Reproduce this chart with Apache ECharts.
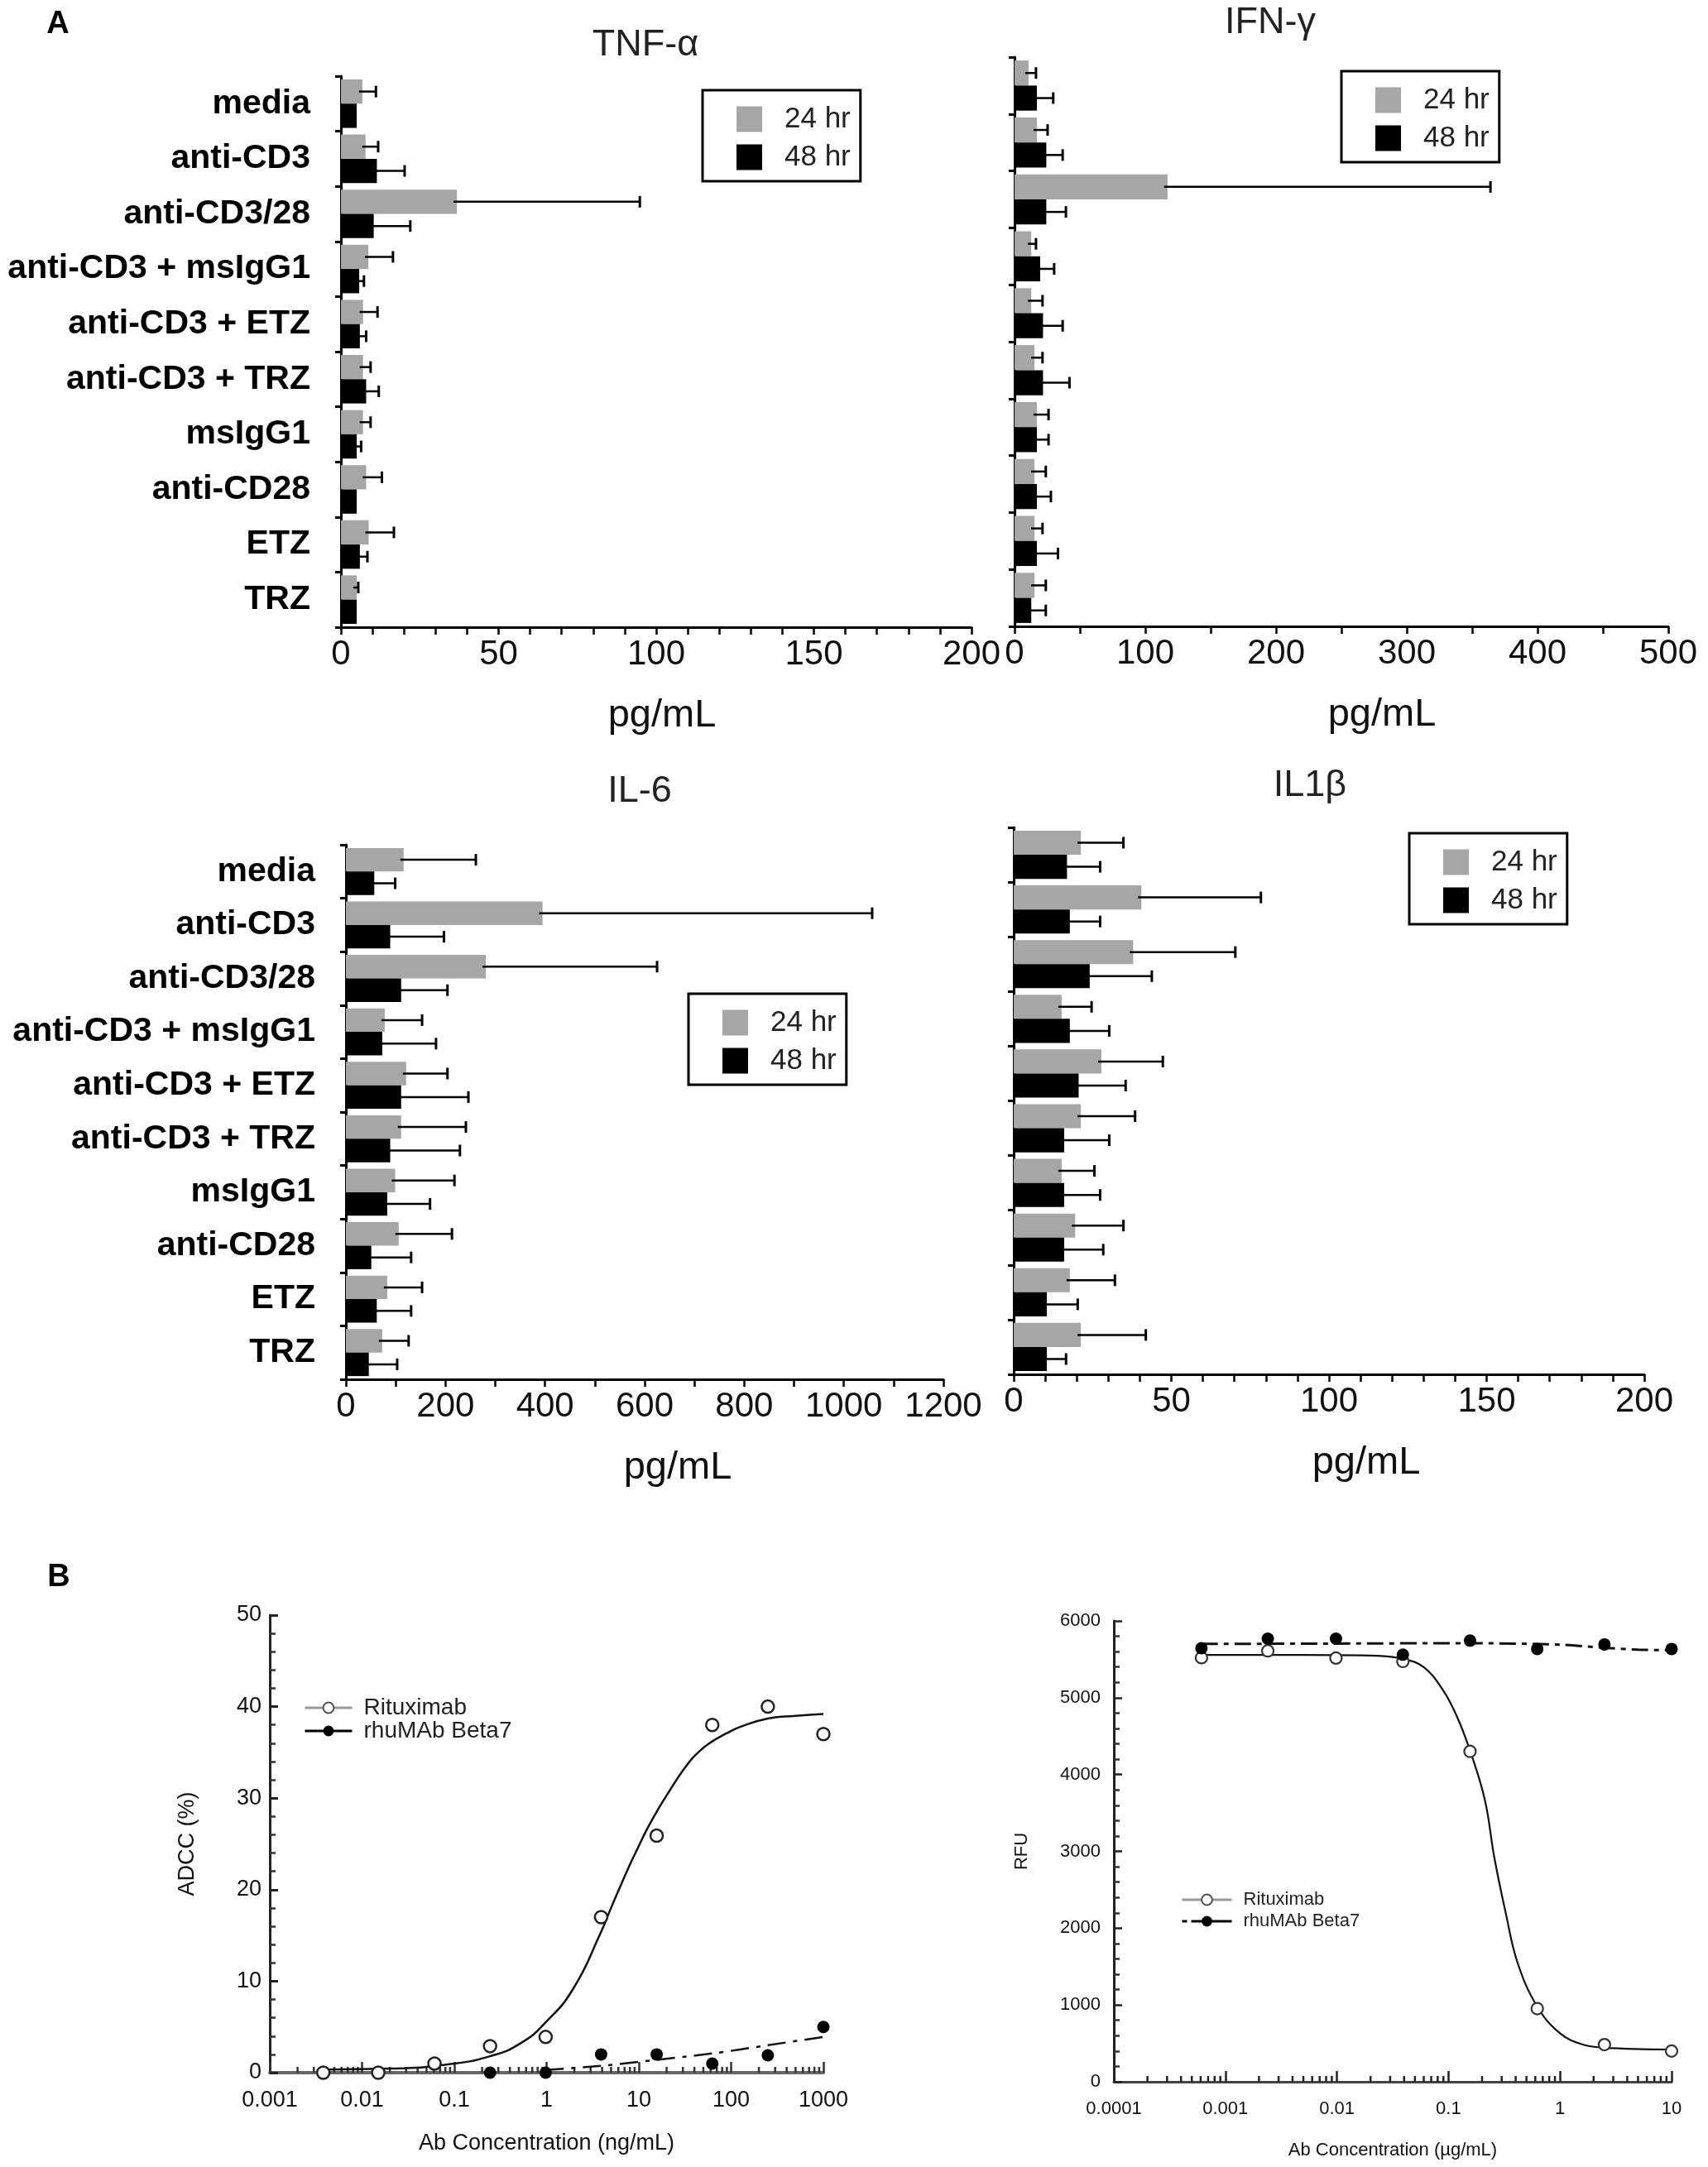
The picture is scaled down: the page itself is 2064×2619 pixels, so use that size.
<!DOCTYPE html>
<html>
<head>
    <meta charset="utf-8">
    <title>Cytokine release and ADCC</title>
    <script src="https://cdn.jsdelivr.net/npm/echarts@6.0.0/dist/echarts.min.js"></script>
    <style>
        html, body { margin: 0; padding: 0; background: #fff; }
    </style>
</head>
<body>
    <div id="main" style="width: 2064px;height:2619px;"></div>
    <script type="text/javascript">
var myChart = echarts.init(document.getElementById('main'));

var FONT = '"Liberation Sans", Arial, sans-serif';

// ---- panel A : cytokines, pg/mL ----
var categories = ['media', 'anti-CD3', 'anti-CD3/28', 'anti-CD3 + msIgG1', 'anti-CD3 + ETZ',
    'anti-CD3 + TRZ', 'msIgG1', 'anti-CD28', 'ETZ', 'TRZ'];

var tnf24 = [6.8, 7.8, 36.8, 8.7, 7.0, 7.0, 7.0, 8.0, 8.8, 5.0];
var tnf24Sd = [4.3, 4.0, 58, 7.8, 4.6, 2.4, 2.4, 5.0, 8.0, 0.5];
var tnf48 = [5.0, 11.4, 10.4, 5.8, 6.0, 8.0, 5.0, 5.0, 6.0, 5.0];
var tnf48Sd = [0, 8.8, 11.6, 1.5, 2.0, 4.0, 1.4, 0, 2.4, 0];

var ifn24 = [10.7, 17.1, 117, 12.8, 12.8, 15.3, 17.1, 15.3, 15.3, 15.3];
var ifn24Sd = [5.7, 8.2, 247, 3.6, 8.6, 6.1, 8.9, 8.6, 6.1, 8.6];
var ifn48 = [17.1, 24.3, 24.3, 19.6, 21.8, 21.8, 17.1, 17.1, 17.1, 12.8];
var ifn48Sd = [12.5, 12.5, 15, 10.7, 15, 20.2, 8.9, 10.7, 16.1, 11.1];

var il624 = [116, 395, 281, 78, 121, 111, 99, 106, 83, 73];
var il624Sd = [145, 662, 344, 75, 83, 130, 119, 107, 70, 53];
var il648 = [57, 89, 111, 73, 111, 89, 83, 51, 62, 46];
var il648Sd = [42, 108, 93, 108, 135, 140, 86, 80, 69, 57];

var il1b24 = [21.3, 40.5, 37.9, 15.2, 27.8, 21.3, 15.2, 19.5, 17.8, 21.3];
var il1b24Sd = [13.5, 37.9, 32.4, 9.5, 19.5, 17.2, 10.4, 15.3, 14.3, 20.6];
var il1b48 = [16.9, 17.8, 24.1, 17.8, 20.6, 16.0, 16.0, 16.0, 10.5, 10.5];
var il1b48Sd = [10.5, 9.6, 19.7, 12.5, 14.9, 14.3, 11.4, 12.4, 9.8, 6.1];

// ---- panel B : ADCC (ng/mL) and RFU (ug/mL) ----
var adccX = [0.0038, 0.015, 0.061, 0.244, 0.977, 3.9, 15.6, 62.5, 250, 1000];
var adccRitux = [0, 0, 1.0, 2.9, 3.9, 17.0, 25.9, 38.0, 40.0, 37.0];
var adccBetaX = [0.244, 0.977, 3.9, 15.6, 62.5, 250, 1000];
var adccBeta = [0, 0, 2.0, 2.0, 1.0, 1.9, 5.0];
// fitted curves
var adccRituxFitX = [0.0038, 0.021, 0.085, 0.244, 0.52, 0.977, 1.95, 3.9, 4.9, 6.2, 7.8, 9.8, 12.4, 15.6, 20, 32, 45, 62.5, 90, 127, 250, 500, 1000];
var adccRituxFit = [0.35, 0.45, 0.9, 1.8, 3.2, 5.5, 9.2, 15.4, 17.8, 20.2, 22.5, 24.6, 26.7, 28.5, 30.3, 33.4, 35.1, 36.2, 37.1, 37.8, 38.7, 39.0, 39.2];
var adccBetaFitX = [0.977, 3.9, 15.6, 62.5, 250, 1000];
var adccBetaFit = [0.3, 0.75, 1.4, 2.1, 3.0, 3.9];

var rfuX = [0.00061, 0.0024, 0.0098, 0.039, 0.156, 0.625, 2.5, 10];
var rfuRitux = [5521, 5610, 5516, 5472, 4301, 953, 484, 400];
var rfuBeta = [5644, 5768, 5768, 5560, 5743, 5635, 5694, 5635];
var rfuRituxFitX = [0.00061, 0.0049, 0.023, 0.039, 0.06, 0.089, 0.119, 0.156, 0.212, 0.257, 0.327, 0.417, 0.625, 1.0, 1.6, 2.5, 10];
var rfuRituxFit = [5556, 5556, 5546, 5506, 5398, 5101, 4756, 4311, 3669, 2928, 2188, 1546, 978, 632, 484, 444, 420];
var rfuBetaFitX = [0.00061, 0.01, 0.156, 1.0, 2.5, 5, 10];
var rfuBetaFit = [5700, 5705, 5710, 5690, 5650, 5625, 5620];

var BAR_FRAC = 0.44;

function zip(xs, ys) {
    return xs.map(function (x, i) { return [x, ys[i]]; });
}

// plain numbers, no thousands separator
function plain(v) {
    return String(+(+v).toPrecision(6));
}

// minor log ticks (2..9 of every decade) between two decade exponents
function logMinor(e0, e1) {
    var out = [];
    for (var e = e0; e < e1; e++) {
        for (var m = 2; m <= 9; m++) out.push([+(m * Math.pow(10, e)).toPrecision(3), 0]);
    }
    return out;
}

function errorBar(sign) {
    return function (params, api) {
        var sd = api.value(2);
        if (!sd) return null;
        var cat = api.value(1);
        var v = api.value(0);
        var p0 = api.coord([v, cat]);
        var p1 = api.coord([v + sd, cat]);
        var band = api.size([0, 1])[1];
        var y = p0[1] + sign * band * BAR_FRAC / 2;
        return {
            type: 'group',
            children: [{
                type: 'line',
                shape: { x1: p0[0] - 4, y1: y, x2: p1[0], y2: y },
                style: { stroke: '#000', lineWidth: 2.5 }
            }, {
                type: 'line',
                shape: { x1: p1[0], y1: y - 7, x2: p1[0], y2: y + 7 },
                style: { stroke: '#000', lineWidth: 3 }
            }]
        };
    };
}

function errData(vals, sds) {
    return vals.map(function (v, i) { return [v, i, sds[i]]; });
}

var grids = [
    { left: 412, top: 92, width: 762, height: 666 },
    { left: 1226, top: 69, width: 790, height: 688 },
    { left: 418, top: 1021, width: 722, height: 646 },
    { left: 1225, top: 1000, width: 762, height: 661 },
    { left: 326, top: 1952, width: 669, height: 553 },
    { left: 1346, top: 1959, width: 674, height: 557 }
];

var barPanels = [
    { max: 200, interval: 50, minor: 5, labels: true, nameShift: 14, d24: tnf24, s24: tnf24Sd, d48: tnf48, s48: tnf48Sd },
    { max: 500, interval: 100, minor: 2, labels: false, nameShift: 98, d24: ifn24, s24: ifn24Sd, d48: ifn48, s48: ifn48Sd },
    { max: 1200, interval: 200, minor: 2, labels: true, nameShift: 80, d24: il624, s24: il624Sd, d48: il648, s48: il648Sd },
    { max: 200, interval: 50, minor: 5, labels: false, nameShift: 90, d24: il1b24, s24: il1b24Sd, d48: il1b48, s48: il1b48Sd }
];

var xAxes = [], yAxes = [], series = [];

barPanels.forEach(function (p, k) {
    xAxes.push({
        gridIndex: k, type: 'value', min: 0, max: p.max, interval: p.interval,
        axisLine: { show: true, lineStyle: { color: '#000', width: 3 } },
        axisTick: { show: true, length: 9, lineStyle: { color: '#000', width: 2.5 } },
        minorTick: { show: true, splitNumber: p.minor, length: 9, lineStyle: { color: '#000', width: 2.5 } },
        splitLine: { show: false },
        axisLabel: { fontSize: 42, color: '#111', fontFamily: FONT, margin: 12, formatter: plain },
        name: 'pg/mL', nameLocation: 'middle', nameGap: 84,
        nameTextStyle: { fontSize: 47, color: '#111', fontFamily: FONT, padding: [0, 0, 0, p.nameShift] }
    });
    yAxes.push({
        gridIndex: k, type: 'category', data: categories, inverse: true,
        axisLine: { show: true, lineStyle: { color: '#000', width: 3 } },
        axisTick: { show: true, length: 7, lineStyle: { color: '#000', width: 3 } },
        splitLine: { show: false },
        axisLabel: {
            show: p.labels, fontSize: 41, fontWeight: 'bold', color: '#000',
            fontFamily: FONT, margin: 37
        }
    });
    series.push({
        name: '24 hr', type: 'bar', xAxisIndex: k, yAxisIndex: k, data: p.d24,
        barWidth: (BAR_FRAC * 100) + '%', barGap: '0%',
        itemStyle: { color: '#a6a6a6' }, silent: true
    }, {
        name: '48 hr', type: 'bar', xAxisIndex: k, yAxisIndex: k, data: p.d48,
        barWidth: (BAR_FRAC * 100) + '%', barGap: '0%',
        itemStyle: { color: '#000' }, silent: true
    }, {
        name: 'err24', type: 'custom', xAxisIndex: k, yAxisIndex: k,
        renderItem: errorBar(-1), encode: { x: 0, y: 1 },
        data: errData(p.d24, p.s24), z: 4, silent: true
    }, {
        name: 'err48', type: 'custom', xAxisIndex: k, yAxisIndex: k,
        renderItem: errorBar(1), encode: { x: 0, y: 1 },
        data: errData(p.d48, p.s48), z: 4, silent: true
    });
});

// panel B axes
xAxes.push({
    gridIndex: 4, type: 'log', logBase: 10, min: 0.001, max: 1000,
    axisLine: { show: true, onZero: false, lineStyle: { color: '#666', width: 4 } },
    axisTick: { show: true, inside: true, length: 13, lineStyle: { color: '#333', width: 2.5 } },
    splitLine: { show: false },
    axisLabel: { fontSize: 27, color: '#111', fontFamily: FONT, margin: 20, formatter: plain },
    name: 'Ab Concentration (ng/mL)', nameLocation: 'middle', nameGap: 72,
    nameTextStyle: { fontSize: 27, color: '#111', fontFamily: FONT }
}, {
    gridIndex: 5, type: 'log', logBase: 10, min: 0.0001, max: 10,
    axisLine: { show: true, onZero: false, lineStyle: { color: '#444', width: 3 } },
    axisTick: { show: true, inside: true, length: 13, lineStyle: { color: '#222', width: 2.5 } },
    splitLine: { show: false },
    axisLabel: { fontSize: 22, color: '#111', fontFamily: FONT, margin: 22, formatter: plain },
    name: 'Ab Concentration (\u00b5g/mL)', nameLocation: 'middle', nameGap: 72,
    nameTextStyle: { fontSize: 22, color: '#111', fontFamily: FONT }
});
yAxes.push({
    gridIndex: 4, type: 'value', min: 0, max: 50, interval: 10,
    axisLine: { show: true, lineStyle: { color: '#222', width: 3 } },
    axisTick: { show: true, inside: true, length: 10, lineStyle: { color: '#222', width: 3 } },
    minorTick: { show: true, splitNumber: 5, length: 7, lineStyle: { color: '#333', width: 2.5 } },
    splitLine: { show: false },
    axisLabel: { fontSize: 27, color: '#111', fontFamily: FONT, margin: 10, formatter: plain },
    name: 'ADCC (%)', nameLocation: 'middle', nameGap: 86, nameRotate: 90,
    nameTextStyle: { fontSize: 27, color: '#111', fontFamily: FONT }
}, {
    gridIndex: 5, type: 'value', min: 0, max: 6000, interval: 1000,
    axisLine: { show: true, lineStyle: { color: '#222', width: 3 } },
    axisTick: { show: true, inside: true, length: 10, lineStyle: { color: '#222', width: 2.5 } },
    minorTick: { show: true, splitNumber: 5, length: 7, lineStyle: { color: '#333', width: 2.5 } },
    splitLine: { show: false },
    axisLabel: { fontSize: 22, color: '#111', fontFamily: FONT, margin: 16, formatter: plain },
    name: 'RFU', nameLocation: 'middle', nameGap: 100, nameRotate: 90,
    nameTextStyle: { fontSize: 22, color: '#111', fontFamily: FONT }
});

function minorLogTicks(axis, ticks, color) {
    return {
        name: 'minorTicks' + axis, type: 'custom', xAxisIndex: axis, yAxisIndex: axis,
        data: ticks, silent: true, z: 1,
        renderItem: function (params, api) {
            var p = api.coord([api.value(0), 0]);
            return {
                type: 'line',
                shape: { x1: p[0], y1: p[1], x2: p[0], y2: p[1] - 7 },
                style: { stroke: color, lineWidth: 2.5 }
            };
        }
    };
}

series.push(
    minorLogTicks(4, logMinor(-3, 3), '#333'),
    minorLogTicks(5, logMinor(-4, 1), '#222'),
    {
        name: 'Rituximab fit', type: 'line', xAxisIndex: 4, yAxisIndex: 4,
        data: zip(adccRituxFitX, adccRituxFit), smooth: 0.5,
        showSymbol: false, symbol: 'none',
        lineStyle: { color: '#111', width: 2.5 }, silent: true, z: 3
    }, {
        name: 'rhuMAb fit', type: 'line', xAxisIndex: 4, yAxisIndex: 4,
        data: zip(adccBetaFitX, adccBetaFit), smooth: 0.3, showSymbol: false, symbol: 'none',
        lineStyle: { color: '#111', width: 2.5, type: [22, 9, 5, 9] }, silent: true, z: 3
    }, {
        name: 'Rituximab', type: 'line', xAxisIndex: 4, yAxisIndex: 4,
        data: zip(adccX, adccRitux), symbol: 'circle', symbolSize: 15, showSymbol: true,
        lineStyle: { width: 0, opacity: 0 },
        itemStyle: { color: '#fff', borderColor: '#222', borderWidth: 2.5 }, z: 5, silent: true
    }, {
        name: 'rhuMAb Beta7', type: 'line', xAxisIndex: 4, yAxisIndex: 4,
        data: zip(adccBetaX, adccBeta), symbol: 'circle', symbolSize: 15, showSymbol: true,
        lineStyle: { width: 0, opacity: 0 },
        itemStyle: { color: '#000' }, z: 5, silent: true
    }, {
        name: 'Rituximab fit', type: 'line', xAxisIndex: 5, yAxisIndex: 5,
        data: zip(rfuRituxFitX, rfuRituxFit), smooth: 0.4,
        showSymbol: false, symbol: 'none',
        lineStyle: { color: '#111', width: 2.2 }, silent: true, z: 3
    }, {
        name: 'rhuMAb fit', type: 'line', xAxisIndex: 5, yAxisIndex: 5,
        data: zip(rfuBetaFitX, rfuBetaFit), smooth: 0.3, showSymbol: false, symbol: 'none',
        lineStyle: { color: '#111', width: 3, type: [20, 7, 6, 7] }, silent: true, z: 3
    }, {
        name: 'Rituximab', type: 'line', xAxisIndex: 5, yAxisIndex: 5,
        data: zip(rfuX, rfuRitux), symbol: 'circle', symbolSize: 14, showSymbol: true,
        lineStyle: { width: 0, opacity: 0 },
        itemStyle: { color: '#fff', borderColor: '#333', borderWidth: 2.2 }, z: 5, silent: true
    }, {
        name: 'rhuMAb Beta7', type: 'line', xAxisIndex: 5, yAxisIndex: 5,
        data: zip(rfuX, rfuBeta), symbol: 'circle', symbolSize: 15, showSymbol: true,
        lineStyle: { width: 0, opacity: 0 },
        itemStyle: { color: '#000' }, z: 5, silent: true
    }
);

function hrLegend(left, top) {
    return {
        left: left, top: top, orient: 'vertical', selectedMode: false,
        data: ['24 hr', '48 hr'], icon: 'rect', itemWidth: 31, itemHeight: 31, itemGap: 8,
        padding: [16, 12, 10, 41], borderColor: '#000', borderWidth: 3,
        textStyle: { fontSize: 35, color: '#222', fontFamily: FONT, padding: [0, 0, 0, 22], lineHeight: 38 }
    };
}

function abLegend(left, top, size, w, gap, betaDash) {
    return {
        left: left, top: top, orient: 'vertical', selectedMode: false,
        itemWidth: w, itemHeight: 16, itemGap: gap,
        data: [{
            name: 'Rituximab',
            itemStyle: { color: '#fff', borderColor: '#555', borderWidth: 2 },
            lineStyle: { color: '#999', width: 3, opacity: 1 }
        }, {
            name: 'rhuMAb Beta7',
            itemStyle: { color: '#000' },
            lineStyle: { color: '#000', width: 3, opacity: 1, type: betaDash }
        }],
        textStyle: { fontSize: size, color: '#222', fontFamily: FONT, padding: [0, 0, 0, 9] }
    };
}

var option = {
    backgroundColor: '#ffffff',
    animation: false,
    grid: grids,
    xAxis: xAxes,
    yAxis: yAxes,
    legend: [
        hrLegend(849, 109),
        hrLegend(1621, 86),
        hrLegend(832, 1201),
        hrLegend(1703, 1007),
        abLegend(362, 2045, 28, 57, 0, 'solid'),
        abLegend(1422, 2280, 22, 60, 4, [6, 5, 60])
    ],
    graphic: [
        { type: 'text', x: 70, y: 30, style: { text: 'A', font: 'bold 38px ' + FONT, fill: '#000', align: 'center', verticalAlign: 'middle' } },
        { type: 'text', x: 71, y: 1907, style: { text: 'B', font: 'bold 38px ' + FONT, fill: '#000', align: 'center', verticalAlign: 'middle' } },
        { type: 'text', x: 780, y: 55, style: { text: 'TNF-\u03b1', font: '45px ' + FONT, fill: '#222', align: 'center', verticalAlign: 'middle' } },
        { type: 'text', x: 1535, y: 28, style: { text: 'IFN-\u03b3', font: '45px ' + FONT, fill: '#222', align: 'center', verticalAlign: 'middle' } },
        { type: 'text', x: 773, y: 957, style: { text: 'IL-6', font: '45px ' + FONT, fill: '#222', align: 'center', verticalAlign: 'middle' } },
        { type: 'text', x: 1583, y: 950, style: { text: 'IL1\u03b2', font: '45px ' + FONT, fill: '#222', align: 'center', verticalAlign: 'middle' } }
    ],
    series: series
};

myChart.setOption(option);
    </script>
</body>
</html>
